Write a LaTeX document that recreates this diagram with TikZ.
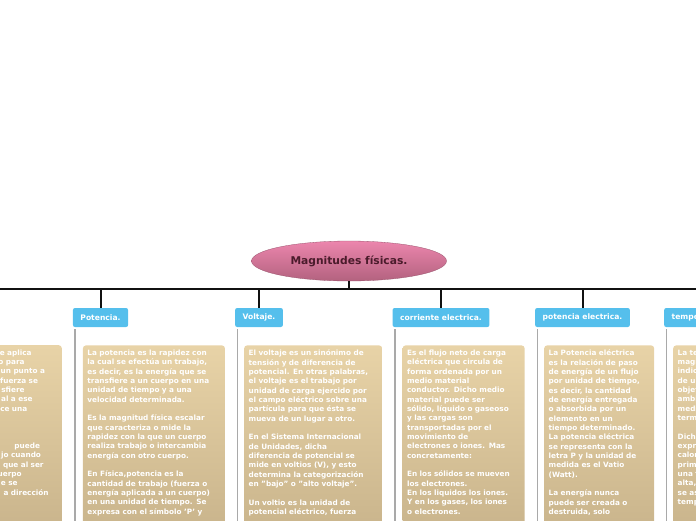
\documentclass[tikz,border=0pt]{standalone}
\usepackage{fontspec}
\setmainfont{DejaVu Sans}
\usetikzlibrary{positioning,shapes.geometric}
\definecolor{topicTop}{HTML}{EC86AD}
\definecolor{topicBottom}{HTML}{B3627F}
\definecolor{topicText}{HTML}{4A1B2B}
\definecolor{busColor}{HTML}{111111}
\definecolor{labelFill}{HTML}{55BFEC}
\definecolor{stemGrey}{HTML}{A9A9A9}
\definecolor{noteTop}{HTML}{E8D3A7}
\definecolor{noteBottom}{HTML}{C6B189}
\newcommand{\cutend}[2]{#2\kern#1\relax}

\begin{document}
\begin{tikzpicture}[
  x=1pt, y=-1pt,
  topic/.style={
    ellipse,
    top color=topicTop,
    bottom color=topicBottom,
    draw=topicBottom!85!black,
    line width=0.3pt,
    minimum width=195pt,
    minimum height=40pt,
    inner sep=0pt,
    text=topicText,
    font=\fontsize{10.7}{12}\selectfont\bfseries
  },
  branch/.style={
    fill=labelFill,
    text=white,
    rounded corners=2pt,
    minimum height=19pt,
    inner xsep=7.5pt,
    font=\fontsize{7.6}{9}\selectfont\bfseries
  },
  note/.style={
    top color=noteTop,
    bottom color=noteBottom,
    rounded corners=3pt,
    text=white,
    align=left,
    inner sep=4.5pt,
    text depth=190pt,
    font=\fontsize{7.3}{9.33}\selectfont\bfseries
  },
  bus/.style={draw=busColor, line width=2pt},
  stem/.style={draw=stemGrey, line width=1.5pt}
]
\useasboundingbox (0,0) rectangle (696,520);
\clip (0,0) rectangle (696,520);

\node[topic] (magnitudes) at (349,261) {Magnitudes físicas.};
\coordinate (bus-west) at (0,289);
\coordinate (bus-east) at (696,289);

\node[branch] (potencia) at (100.5,317.5) {Potencia.};
\node[branch] (voltaje) at (259,317.5) {Voltaje.};
\node[branch] (corriente) at (441,317.5) {corriente electrica.};
\node[branch] (potencia-electrica) at (582.5,317.5) {potencia electrica.};
\node[branch, anchor=west] (temperatura) at (664,317.5) {temperatura.};

% connectors
\draw[bus] (bus-west) -- (bus-east);
\draw[bus] (magnitudes.south) -- (magnitudes.south |- bus-west);
\foreach \b in {potencia,voltaje,corriente,potencia-electrica,temperatura}{
  \draw[bus] (\b.north) -- (\b.north |- bus-west);
  \draw[stem] ([xshift=2.5pt,yshift=-2pt]\b.south west) -- ++(0,200);
}

% notes
\node[note, text width=132pt, align=right, anchor=north east] (trabajo-note) at (62,345) {%
\cutend{25.7pt}{e aplica}\\
\cutend{32.7pt}{o para}\\
\cutend{12.3pt}{un punto a}\\
\cutend{19.3pt}{fuerza se}\\
\cutend{32.7pt}{sfiere}\\
\cutend{24.7pt}{al a ese}\\
\cutend{30pt}{ce una}\\
\mbox{}\\
\mbox{}\\
\mbox{}\\
\cutend{17.3pt}{puede}\\
\cutend{16.3pt}{jo cuando}\\
\cutend{13.7pt}{a que al ser}\\
\cutend{35.7pt}{uerpo}\\
\cutend{39.7pt}{e se}\\
\cutend{8.7pt}{a dirección}};

\node[note, text width=133pt, below right=18pt and 10pt of potencia.south west] (potencia-note) {%
La potencia es la rapidez con\\
la cual se efectúa un trabajo,\\
es decir, es la energía que se\\
transfiere a un cuerpo en una\\
unidad de tiempo y a una\\
velocidad determinada.\\
\mbox{}\\
Es la magnitud física escalar\\
que caracteriza o mide la\\
rapidez con la que un cuerpo\\
realiza trabajo o intercambia\\
energía con otro cuerpo.\\
\mbox{}\\
En Física,potencia es la\\
cantidad de trabajo (fuerza o\\
energía aplicada a un cuerpo)\\
en una unidad de tiempo. Se\\
expresa con el símbolo 'P' y};

\node[note, text width=129pt, below right=18pt and 9pt of voltaje.south west] (voltaje-note) {%
El voltaje es un sinónimo de\\
tensión y de diferencia de\\
potencial. En otras palabras,\\
el voltaje es el trabajo por\\
unidad de carga ejercido por\\
el campo eléctrico sobre una\\
partícula para que ésta se\\
mueva de un lugar a otro.\\
\mbox{}\\
En el Sistema Internacional\\
de Unidades, dicha\\
diferencia de potencial se\\
mide en voltios (V), y esto\\
determina la categorización\\
en "bajo" o "alto voltaje".\\
\mbox{}\\
Un voltio es la unidad de\\
potencial eléctrico, fuerza};

\node[note, text width=113pt, below right=18pt and 10pt of corriente.south west] (corriente-note) {%
Es el flujo neto de carga\\
eléctrica que circula de\\
forma ordenada por un\\
medio material\\
conductor. Dicho medio\\
material puede ser\\
sólido, líquido o gaseoso\\
y las cargas son\\
transportadas por el\\
movimiento de\\
electrones o iones. Mas\\
concretamente:\\
\mbox{}\\
En los sólidos se mueven\\
los electrones.\\
En los liquidos los iones.\\
Y en los gases, los iones\\
o electrones.};

\node[note, text width=101pt, below right=18pt and 9pt of potencia-electrica.south west] (potencia-electrica-note) {%
La Potencia eléctrica\\
es la relación de paso\\
de energía de un flujo\\
por unidad de tiempo,\\
es decir, la cantidad\\
de energía entregada\\
o absorbida por un\\
elemento en un\\
tiempo determinado.\\
La potencia eléctrica\\
se representa con la\\
letra P y la unidad de\\
medida es el Vatio\\
(Watt).\\
\mbox{}\\
La energía nunca\\
puede ser creada o\\
destruida, solo};

\node[note, text width=110pt, below right=18pt and 9pt of temperatura.south west] (temperatura-note) {%
La temperatura es una\\
magnitud física que\\
indica la energía interna\\
de un cuerpo, de un\\
objeto o del medio\\
ambiente en general,\\
medida por un\\
termómetro.\\
\mbox{}\\
Dicha energía interna se\\
expresa en términos de\\
calor y frío, siendo el\\
primero asociado con\\
una temperatura más\\
alta, mientras que el frío\\
se asocia con una\\
temperatura más baja.};

\end{tikzpicture}
\end{document}
